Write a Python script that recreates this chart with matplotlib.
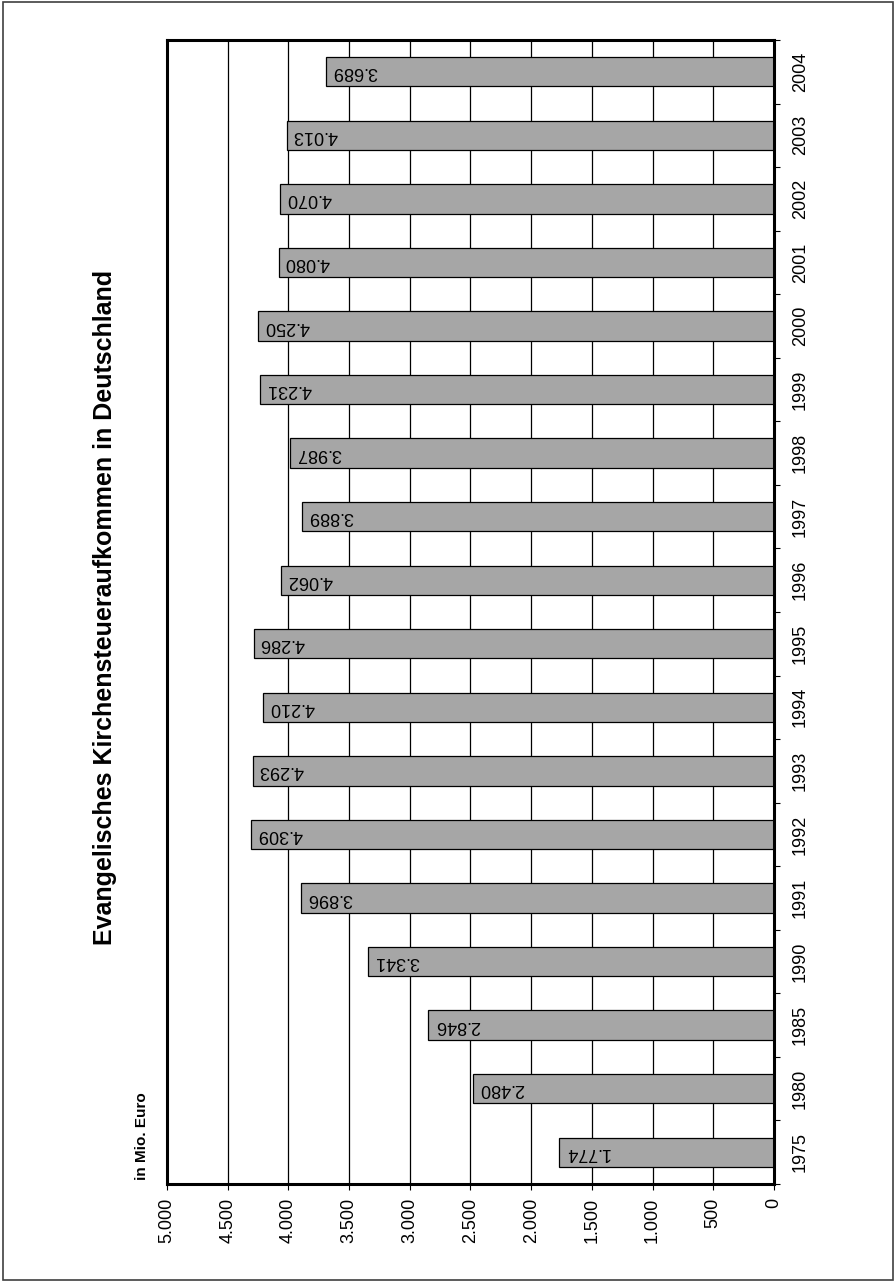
import numpy as np
import matplotlib.pyplot as plt
from matplotlib.patches import Rectangle

plt.rcParams['font.family'] = ['Liberation Sans', 'DejaVu Sans']

# Kirchensteueraufkommen (Mio. Euro)
jahre = ["1975", "1980", "1985", "1990", "1991", "1992", "1993", "1994", "1995",
         "1996", "1997", "1998", "1999", "2000", "2001", "2002", "2003", "2004"]
werte = [1774, 2480, 2846, 3341, 3896, 4309, 4293, 4210, 4286,
         4062, 3889, 3987, 4231, 4250, 4080, 4070, 4013, 3689]
achse = [0, 500, 1000, 1500, 2000, 2500, 3000, 3500, 4000, 4500, 5000]


def de_zahl(v):
    return f"{v:,.0f}".replace(",", ".")


W, H = 895, 1282
fig = plt.figure(figsize=(W / 100, H / 100), dpi=100)
ax = fig.add_axes([167 / W, 1 - 1184 / H, (774 - 167) / W, (1184 - 40) / H])

pos = np.arange(len(jahre))
ax.barh(pos, werte, height=0.46, color='#a6a6a6', edgecolor='black', linewidth=0.9, zorder=2)

for i, v in enumerate(werte):
    ax.annotate(de_zahl(v), xy=(v, i), xytext=(4.5, 0), textcoords='offset points',
                rotation=180, ha='left', va='center', fontsize=13, zorder=3)

ax.set_xlim(5000, 0)
ax.set_ylim(-0.5, len(jahre) - 0.5)
ax.set_xticks(achse)
ax.set_xticklabels([de_zahl(v) for v in achse], rotation=90, fontsize=13)
ax.tick_params(axis='x', length=4, width=0.8, pad=6)
ax.grid(axis='x', color='black', linewidth=0.9, zorder=1)
ax.set_axisbelow(True)

ax.yaxis.tick_right()
ax.set_yticks(pos)
ax.set_yticklabels(jahre, rotation=90, va='center', fontsize=13)
ax.set_yticks(np.arange(-0.5, len(jahre), 1), minor=True)
ax.tick_params(axis='y', which='major', length=0, pad=13)
ax.tick_params(axis='y', which='minor', length=4.5, width=0.8, direction='out',
               right=True, left=False)

for s in ax.spines.values():
    s.set_linewidth(2.2)
    s.set_color('black')

fig.text(105 / W, 1 - 607 / H, "Evangelisches Kirchensteueraufkommen in Deutschland",
         rotation=90, ha='center', va='center', fontsize=18, fontweight='bold')
fig.text(142 / W, 1 - 1180 / H, "in Mio. Euro", rotation=90, ha='center', va='bottom',
         fontsize=11, fontweight='bold')

fig.patches.append(Rectangle((3 / W, 2 / H), 890 / W, 1278 / H, transform=fig.transFigure,
                             fill=False, edgecolor='#404040', linewidth=1.2))

fig.savefig("out.png", dpi=100)
